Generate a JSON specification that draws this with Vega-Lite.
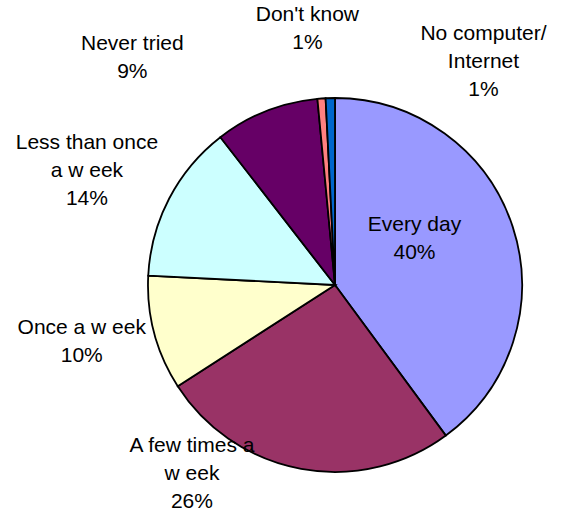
{
  "$schema": "https://vega.github.io/schema/vega-lite/v6.json",
  "width": 374,
  "height": 374,
  "autosize": "none",
  "padding": {"left": 148, "top": 98, "right": 39, "bottom": 45},
  "background": "white",
  "view": {"stroke": null},
  "config": {"text": {"font": "Liberation Sans", "fontSize": 21, "lineHeight": 28, "lineBreak": "\n", "align": "center", "baseline": "middle", "color": "black"}},
  "data": {"values": [
    {"category": "Every day", "value": 39.9, "order": 1, "label": "Every day\n40%"},
    {"category": "A few times a week", "value": 26.0, "order": 2, "label": "A few times a\nw eek\n26%"},
    {"category": "Once a week", "value": 9.9, "order": 3, "label": "Once a w eek\n10%"},
    {"category": "Less than once a week", "value": 13.7, "order": 4, "label": "Less than once\na w eek\n14%"},
    {"category": "Never tried", "value": 9.0, "order": 5, "label": "Never tried\n9%"},
    {"category": "Don't know", "value": 0.7, "order": 6, "label": "Don't know\n1%"},
    {"category": "No computer/Internet", "value": 0.8, "order": 7, "label": "No computer/\nInternet\n1%"}
  ]},
  "encoding": {
    "theta": {"field": "value", "type": "quantitative", "stack": true},
    "order": {"field": "order", "type": "quantitative"}
  },
  "layer": [
    {
      "mark": {"type": "arc", "stroke": "black", "strokeWidth": 1.8},
      "encoding": {
        "color": {"field": "category", "type": "nominal", "legend": null,
          "scale": {"domain": ["Every day", "A few times a week", "Once a week", "Less than once a week", "Never tried", "Don't know", "No computer/Internet"],
                    "range": ["#9999FF", "#993366", "#FFFFCC", "#CCFFFF", "#660066", "#FF8080", "#0066CC"]}}
      }
    },
    {"mark": {"type": "text", "radius": 90, "dx": -6, "dy": -32},
     "encoding": {"text": {"condition": {"test": "datum.category === 'Every day'", "field": "label"}, "value": ""}}},
    {"mark": {"type": "text", "radius": 210, "dx": -105, "dy": -46},
     "encoding": {"text": {"condition": {"test": "datum.category === 'A few times a week'", "field": "label"}, "value": ""}}},
    {"mark": {"type": "text", "radius": 259, "dx": -3, "dy": -24},
     "encoding": {"text": {"condition": {"test": "datum.category === 'Once a week'", "field": "label"}, "value": ""}}},
    {"mark": {"type": "text", "radius": 273, "dx": -6, "dy": -16},
     "encoding": {"text": {"condition": {"test": "datum.category === 'Less than once a week'", "field": "label"}, "value": ""}}},
    {"mark": {"type": "text", "radius": 287, "dx": -97, "dy": 26},
     "encoding": {"text": {"condition": {"test": "datum.category === 'Never tried'", "field": "label"}, "value": ""}}},
    {"mark": {"type": "text", "radius": 258, "dx": -9, "dy": -13},
     "encoding": {"text": {"condition": {"test": "datum.category === \"Don't know\"", "field": "label"}, "value": ""}}},
    {"mark": {"type": "text", "radius": 220, "dx": 154, "dy": -31},
     "encoding": {"text": {"condition": {"test": "datum.category === 'No computer/Internet'", "field": "label"}, "value": ""}}}
  ]
}
